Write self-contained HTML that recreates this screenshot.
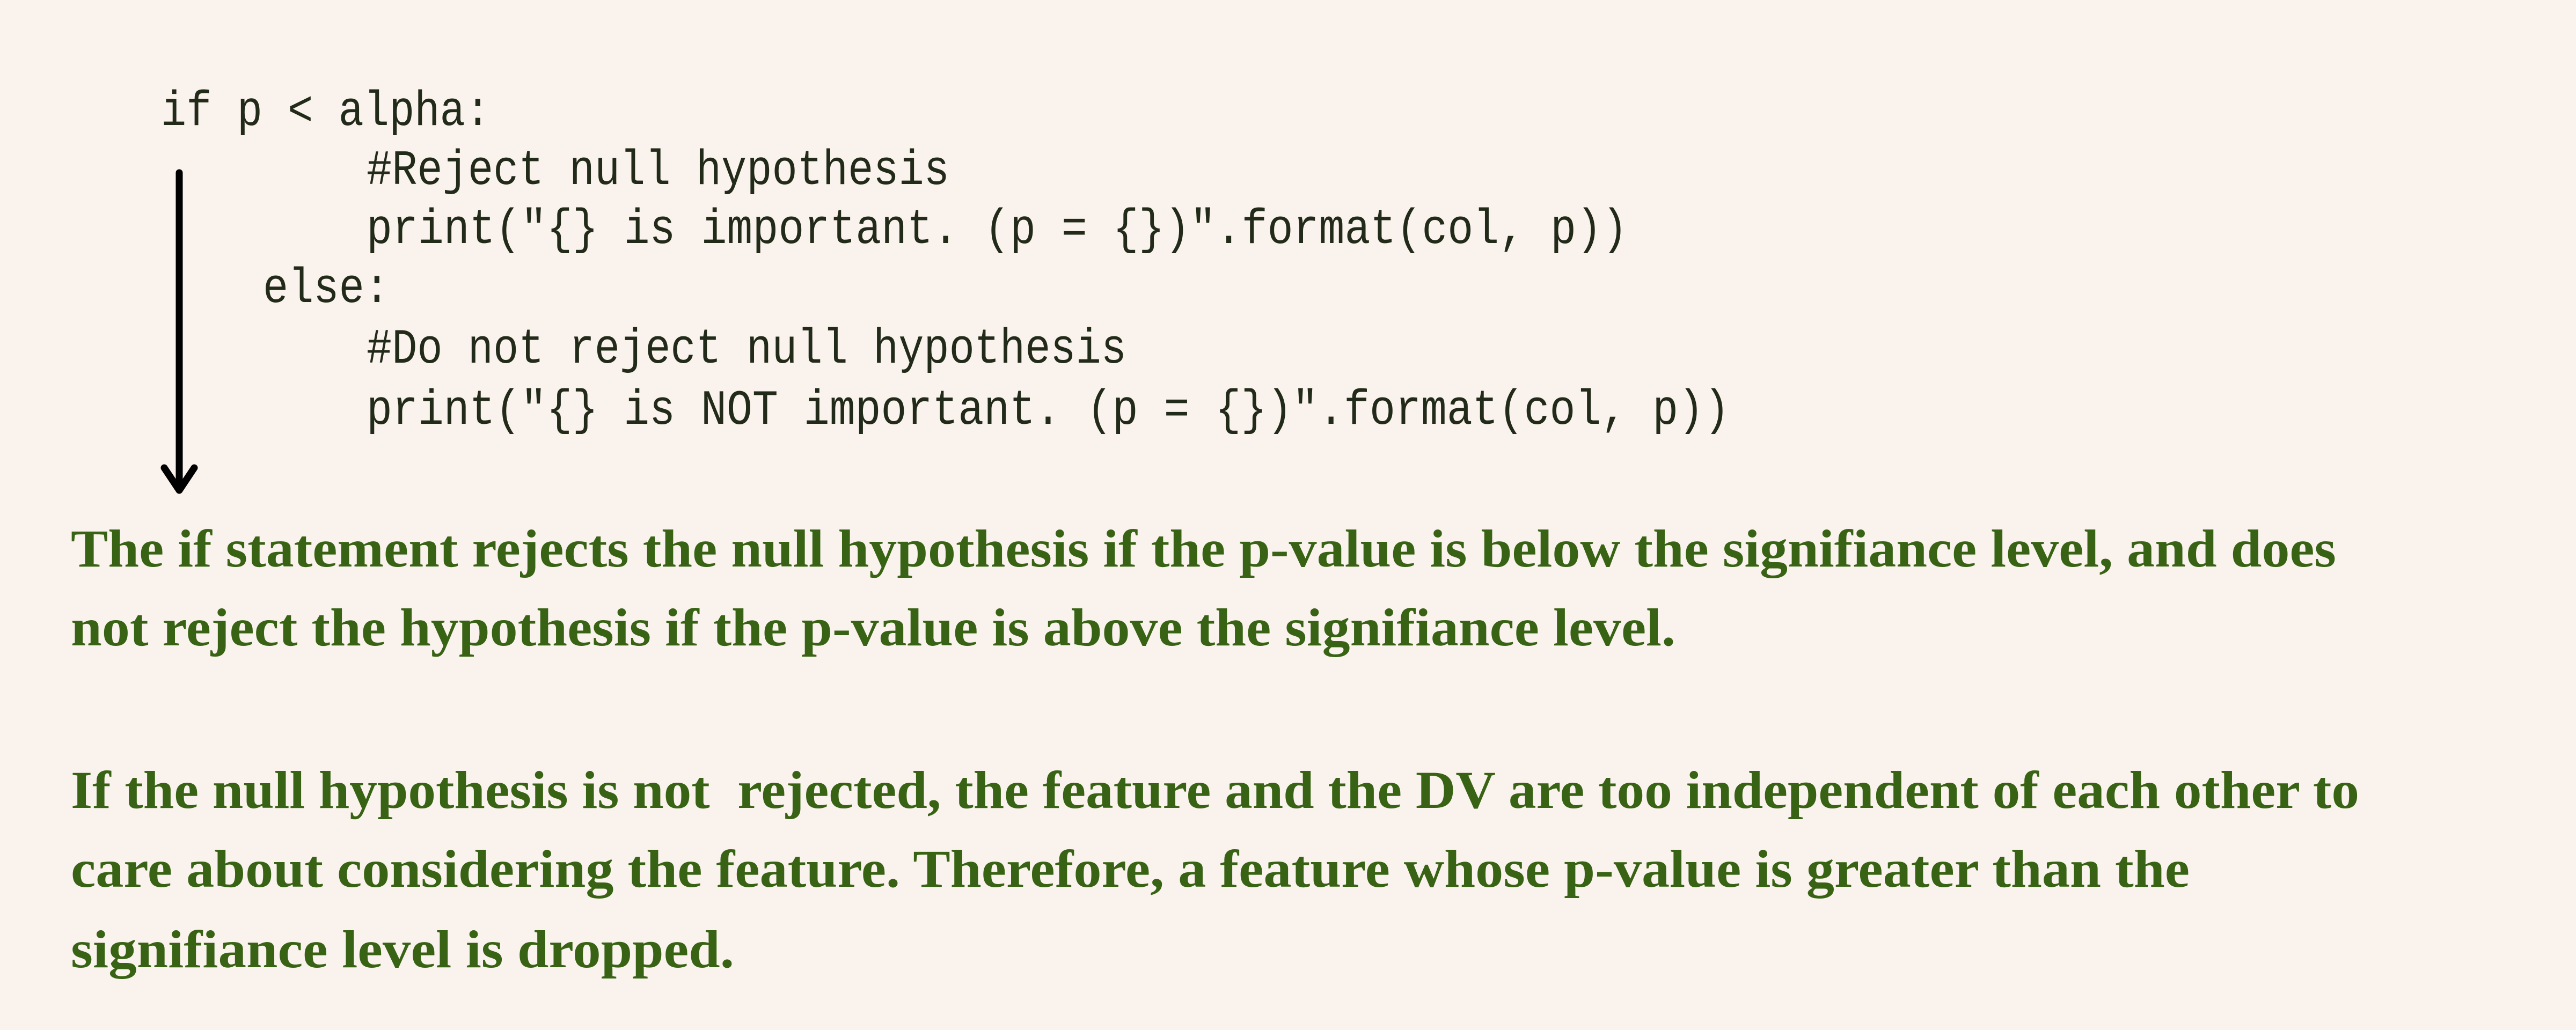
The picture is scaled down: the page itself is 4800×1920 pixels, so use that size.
<!DOCTYPE html>
<html><head><meta charset="utf-8"><style>
html,body{margin:0;padding:0;background:#faf2ec;}
svg{display:block}
.c{font-family:"Liberation Mono",monospace;font-size:92px;fill:#222a1a;}
.t{font-family:"Liberation Serif",serif;font-weight:bold;font-size:100px;fill:#386314;}
</style></head><body>
<svg width="4800" height="1920" viewBox="0 0 4800 1920" xmlns="http://www.w3.org/2000/svg">
<rect width="4800" height="1920" fill="#faf2ec"/>
<text class="c" x="300" y="233" textLength="614" lengthAdjust="spacingAndGlyphs" xml:space="preserve">if p &lt; alpha:</text>
<text class="c" x="683" y="343" textLength="1086" lengthAdjust="spacingAndGlyphs">#Reject null hypothesis</text>
<text class="c" x="683" y="453" textLength="2350" lengthAdjust="spacingAndGlyphs">print("{} is important. (p = {})".format(col, p))</text>
<text class="c" x="490" y="563" textLength="236" lengthAdjust="spacingAndGlyphs">else:</text>
<text class="c" x="683" y="676" textLength="1416" lengthAdjust="spacingAndGlyphs">#Do not reject null hypothesis</text>
<text class="c" x="683" y="790" textLength="2540" lengthAdjust="spacingAndGlyphs">print("{} is NOT important. (p = {})".format(col, p))</text>
<line x1="334" y1="322" x2="334" y2="905" stroke="#000" stroke-width="13" stroke-linecap="round"/>
<polyline points="306,872 334,914 362,872" fill="none" stroke="#000" stroke-width="13" stroke-linecap="round" stroke-linejoin="round"/>
<text class="t" x="132" y="1056" textLength="4221" lengthAdjust="spacingAndGlyphs">The if statement rejects the null hypothesis if the p-value is below the signifiance level, and does</text>
<text class="t" x="132" y="1203" textLength="2990" lengthAdjust="spacingAndGlyphs">not reject the hypothesis if the p-value is above the signifiance level.</text>
<text class="t" x="132" y="1506" textLength="4264" lengthAdjust="spacingAndGlyphs" xml:space="preserve">If the null hypothesis is not  rejected, the feature and the DV are too independent of each other to</text>
<text class="t" x="132" y="1653" textLength="3948" lengthAdjust="spacingAndGlyphs">care about considering the feature. Therefore, a feature whose p-value is greater than the</text>
<text class="t" x="132" y="1803" textLength="1236" lengthAdjust="spacingAndGlyphs">signifiance level is dropped.</text>
</svg>
</body></html>
